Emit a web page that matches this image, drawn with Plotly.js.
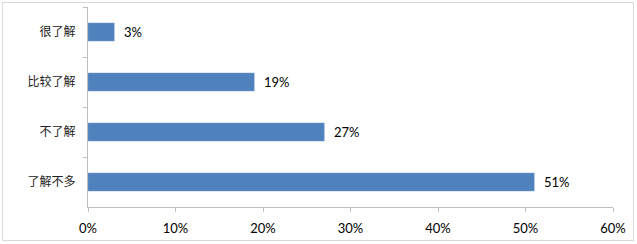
<!DOCTYPE html>
<html>
<head>
<meta charset="utf-8">
<script src="https://cdn.plot.ly/plotly-3.0.1.min.js"></script>
<style>
html,body{margin:0;padding:0;background:#fff;}
#frame{position:absolute;left:2px;top:2px;width:630px;height:237px;border:1px solid #d9d9d9;}
#chart{position:absolute;left:0;top:0;width:637px;height:244px;}
</style>
</head>
<body>
<div id="frame"></div>
<div id="chart"></div>
<script>
const categories = ["很了解", "比较了解", "不了解", "了解不多"];
const values = [3, 19, 27, 51];
const labels = ["3%", "19%", "27%", "51%"];
const tickVals = [0, 10, 20, 30, 40, 50, 60];
const tickText = ["0%", "10%", "20%", "30%", "40%", "50%", "60%"];

const trace = {
  type: "bar",
  orientation: "h",
  y: categories,
  x: values,
  text: labels,
  texttemplate: "\u00a0\u00a0%{text}",
  textposition: "outside",
  constraintext: "none",
  cliponaxis: false,
  textfont: {family: "Lato, 'Open Sans', sans-serif", size: 13, color: "#000"},
  marker: {color: "#4f81bd", line: {color: "#7a9fcf", width: 0.5}},
  width: 0.36,
  hoverinfo: "none"
};

const layout = {
  width: 637, height: 244,
  margin: {l: 88, r: 24, t: 7, b: 37, pad: 0},
  paper_bgcolor: "rgba(0,0,0,0)",
  plot_bgcolor: "rgba(0,0,0,0)",
  showlegend: false,
  xaxis: {
    range: [0, 60],
    tickvals: tickVals,
    ticktext: tickText,
    showgrid: false,
    zeroline: false,
    showline: true,
    linecolor: "#bfbfbf",
    linewidth: 1,
    ticks: "outside",
    ticklen: 4,
    tickcolor: "#bfbfbf",
    ticklabelstandoff: 5,
    tickfont: {family: "Lato, 'Open Sans', sans-serif", size: 13, color: "#000"},
    fixedrange: true
  },
  yaxis: {
    type: "category",
    categoryorder: "array",
    categoryarray: categories,
    autorange: "reversed",
    showgrid: false,
    zeroline: false,
    showline: true,
    linecolor: "#bfbfbf",
    linewidth: 1,
    ticks: "outside",
    ticklen: 4,
    tickcolor: "#bfbfbf",
    tickson: "boundaries",
    ticklabelstandoff: 9,
    tickfont: {family: "'Noto Sans CJK SC', sans-serif", size: 12, color: "#222"},
    fixedrange: true
  }
};

Plotly.newPlot("chart", [trace], layout, {displayModeBar: false, staticPlot: true});
</script>
</body>
</html>
